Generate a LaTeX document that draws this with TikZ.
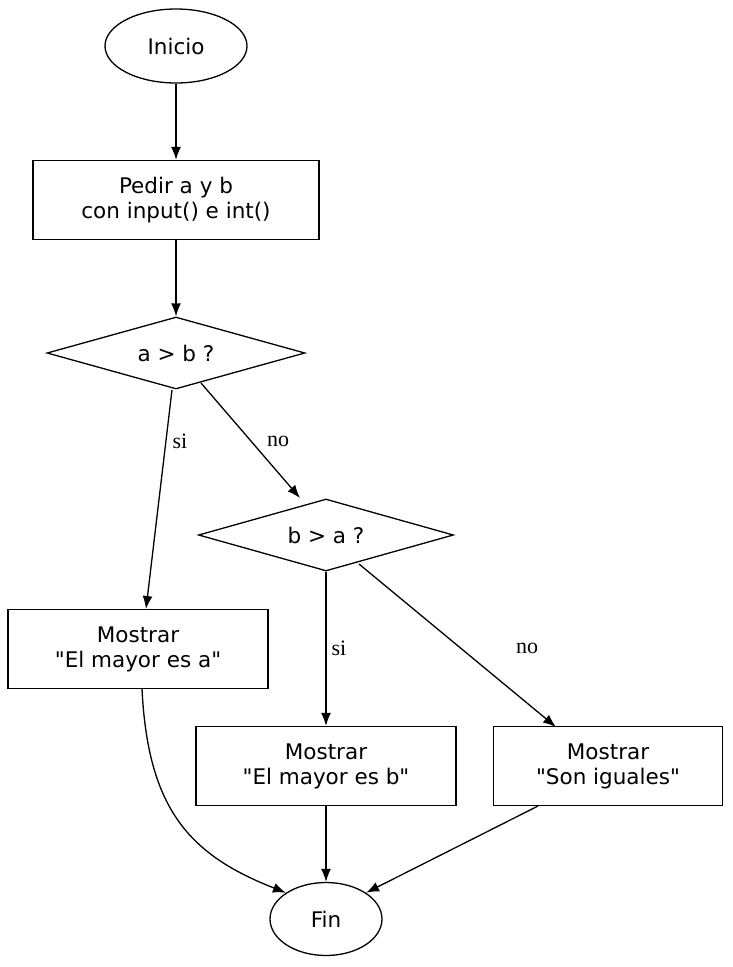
\documentclass[tikz,border=0pt]{standalone}
\usepackage{fontspec}
\setmainfont{DejaVu Sans}
\newfontfamily\lblfont{Liberation Serif}
\usetikzlibrary{shapes.geometric,arrows.meta}
\begin{document}
\begin{tikzpicture}[x=1pt,y=-1pt,
  every node/.style={font=\fontsize{21.5}{25}\selectfont, align=center, inner sep=0pt},
  box/.style={draw, line width=1.3pt, minimum width=#1, minimum height=79},
  ell/.style={draw, ellipse, line width=1.3pt},
  dia/.style={draw, diamond, aspect=3.5, line width=1.3pt, minimum width=#1, minimum height=72},
  arr/.style={line width=1.3pt, -{Latex[length=13,width=10]}},
  lbl/.style={font=\lblfont\fontsize{22}{24}\selectfont}]
\useasboundingbox (0,0) rectangle (732,967);
\node[ell, minimum width=142, minimum height=74] (ini) at (176,46) {Inicio};
\node[box=286] (ped) at (176,200) {Pedir a y b\\con input() e int()};
\node[dia=258] (d1) at (176,353) {a > b ?};
\node[dia=255] (d2) at (326,535) {b > a ?};
\node[box=260] (ma) at (138,649) {Mostrar\\\textquotedbl El mayor es a\textquotedbl};
\node[box=260] (mb) at (326,766) {Mostrar\\\textquotedbl El mayor es b\textquotedbl};
\node[box=229] (mi) at (608,766) {Mostrar\\\textquotedbl Son iguales\textquotedbl};
\node[ell, minimum width=112, minimum height=73] (fin) at (326,919) {Fin};
\coordinate (d1s) at (172,390);
\coordinate (d1r) at (201,383);
\coordinate (d2t) at (300,498);
\coordinate (d2r) at (359,564);
\coordinate (mat) at (146,609);
\coordinate (mit) at (556,727);
\coordinate (mab) at (142,689);
\coordinate (mib) at (538,806);
\draw[arr] (ini) -- (ped);
\draw[arr] (ped) -- (d1);
\draw[arr] (d1s) -- (mat);
\node[lbl] (l1) at (180,441) {si};
\draw[arr] (d1r) -- (d2t);
\node[lbl] (l2) at (278,441) {no};
\draw[arr] (d2) -- (mb);
\node[lbl] (l3) at (339,648) {si};
\draw[arr] (d2r) -- (mit);
\node[lbl] (l4) at (527,648) {no};
\draw[arr] (mab) .. controls (148,810) and (190,855) .. (fin.north west);
\draw[arr] (mb) -- (fin);
\draw[arr] (mib) -- (fin.north east);
\end{tikzpicture}
\end{document}
